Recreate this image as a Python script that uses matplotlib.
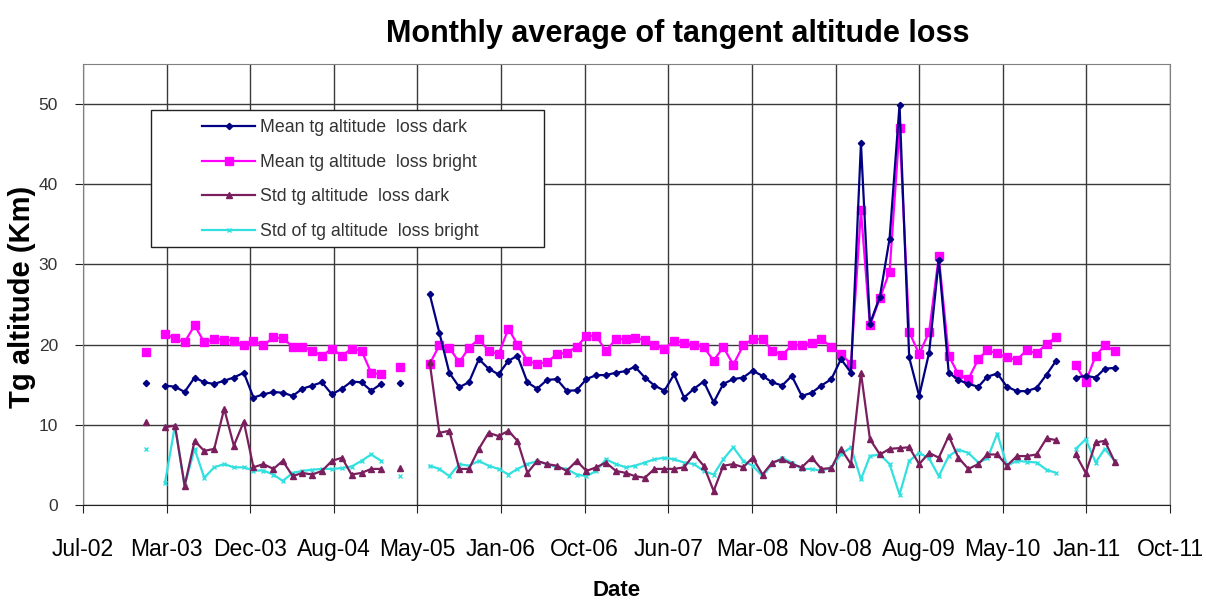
import numpy as np
import pandas as pd
import matplotlib
matplotlib.use("Agg")
import matplotlib.pyplot as plt
import matplotlib.dates as mdates
from matplotlib.patches import Rectangle

plt.rcParams['font.family'] = ['Liberation Sans', 'DejaVu Sans']

nan = np.nan
# monthly values, Jan-03 .. Apr-11 (100 months), gaps = nan
mean_dark = [15.2, nan,
             14.9, 14.75, 14.1, 15.9, 15.3, 15.1, 15.5, 15.9, 16.5, 13.4, 13.8, 14.1,
             14.0, 13.6, 14.5, 14.9, 15.3, 13.8, 14.5, 15.4, 15.3, 14.25, 15.1,
             nan, 15.2, nan, nan,
             26.3, 21.5, 16.5, 14.7, 15.3, 18.2, 17.0, 16.3, 18.0, 18.6, 15.3, 14.5,
             15.6, 15.7, 14.25, 14.3, 15.7, 16.2, 16.2, 16.5, 16.7, 17.25, 15.9, 14.9,
             14.25, 16.3, 13.4, 14.5, 15.4, 12.8, 15.1, 15.7, 15.9, 16.75, 16.1, 15.3,
             14.9, 16.1, 13.6, 14.0,
             14.9, 15.7, 18.2, 16.5, 45.1, 22.6, 26.0, 33.2, 49.9, 18.4, 13.6, 19.0,
             30.5, 16.5, 15.6, 15.1, 14.75, 16.0, 16.4, 14.75, 14.2, 14.2, 14.6, 16.25, 18.0,
             nan, 15.9, 16.1, 15.9, 17.0, 17.1]

mean_bright = [19.1, nan,
               21.3, 20.8, 20.3, 22.4, 20.3, 20.7, 20.6, 20.5, 19.9, 20.5, 19.9, 20.9,
               20.8, 19.75, 19.75, 19.25, 18.6, 19.5, 18.6, 19.5, 19.25, 16.5, 16.3,
               nan, 17.25, nan, nan,
               17.6, 19.9, 19.6, 17.8, 19.6, 20.7, 19.25, 18.8, 22.0, 20.0, 18.0, 17.6,
               17.8, 18.8, 19.0, 19.7, 21.1, 21.1, 19.2, 20.7, 20.7, 20.8, 20.6, 19.9,
               19.5, 20.5, 20.2, 20.0, 19.7, 18.0, 19.7, 17.5, 19.9, 20.7, 20.7, 19.25,
               18.7, 19.9, 20.0, 20.2,
               20.7, 19.7, 18.8, 17.6, 36.75, 22.4, 25.8, 29.1, 47.0, 21.6, 18.8, 21.6,
               31.0, 18.6, 16.3, 15.7, 18.2, 19.3, 18.9, 18.4, 18.1, 19.3, 18.9, 20.1, 20.9,
               nan, 17.4, 15.4, 18.6, 19.9, 19.2]

std_dark = [10.4, nan,
            9.7, 9.9, 2.4, 8.0, 6.75, 7.0, 12.0, 7.4, 10.4, 4.7, 5.1, 4.5,
            5.5, 3.6, 4.0, 3.8, 4.25, 5.5, 5.9, 3.8, 4.0, 4.5, 4.5,
            nan, 4.6, nan, nan,
            17.8, 9.0, 9.25, 4.5, 4.5, 7.0, 9.0, 8.6, 9.25, 8.0, 4.0, 5.5,
            5.1, 4.9, 4.25, 5.5, 4.25, 4.7, 5.3, 4.25, 4.0, 3.6, 3.4, 4.5,
            4.5, 4.5, 4.7, 6.3, 4.9, 1.75, 4.9, 5.1, 4.7, 5.9, 3.8, 5.3,
            5.7, 5.1, 4.7, 5.9,
            4.5, 4.6, 7.0, 5.1, 16.5, 8.2, 6.3, 7.0, 7.1, 7.2, 5.1, 6.5,
            5.9, 8.6, 5.9, 4.5, 5.1, 6.3, 6.3, 4.9, 6.1, 6.1, 6.3, 8.3, 8.1,
            nan, 6.3, 4.0, 7.8, 8.0, 5.4]

std_bright = [7.0, nan,
              2.8, 9.9, 2.4, 7.0, 3.4, 4.7, 5.1, 4.7, 4.7, 4.3, 4.3, 3.8,
              3.0, 4.0, 4.25, 4.4, 4.5, 4.5, 4.6, 4.8, 5.5, 6.3, 5.5,
              nan, 3.6, nan, nan,
              4.9, 4.5, 3.6, 5.1, 4.9, 5.5, 4.9, 4.5, 3.8, 4.5, 5.1, 5.5,
              5.1, 4.7, 4.5, 3.8, 3.6, 4.25, 5.7, 5.1, 4.7, 4.9, 5.3, 5.7,
              5.9, 5.7, 5.3, 5.1, 4.25, 3.8, 5.7, 7.2, 5.5, 4.9, 3.6, 5.1,
              5.9, 5.3, 4.5, 4.5,
              4.25, 4.7, 6.3, 7.2, 3.2, 6.1, 6.3, 5.1, 1.3, 5.5, 6.5, 5.8,
              3.6, 6.1, 6.9, 6.5, 5.3, 5.8, 8.9, 4.9, 5.5, 5.4, 5.3, 4.4, 4.0,
              nan, 7.0, 8.2, 5.3, 7.0, 5.5]

months = pd.date_range('2003-01-01', periods=len(mean_dark), freq='MS') + pd.Timedelta(days=14)

labels = ['Mean tg altitude  loss dark', 'Mean tg altitude  loss bright',
          'Std tg altitude  loss dark', 'Std of tg altitude  loss bright']

fig = plt.figure(figsize=(12.06, 6.03), dpi=100)
ax = fig.add_axes([83/1206, 1-505/603, 1087/1206, 441/603])

ax.plot(months, mean_dark, color='#000080', lw=1.6, marker='D', ms=3.2, label=labels[0], zorder=5)
ax.plot(months, mean_bright, color='#FF00FF', lw=1.6, marker='s', ms=6, label=labels[1], zorder=4)
ax.plot(months, std_dark, color='#7A1E5E', lw=1.6, marker='^', ms=5, label=labels[2], zorder=4)
ax.plot(months, std_bright, color='#33E0E0', lw=1.6, marker='x', ms=3, mew=1, label=labels[3], zorder=3)

# excel date axis: major unit 260 days
x0 = pd.Timestamp('2002-07-03')
ticks = [x0 + pd.Timedelta(days=260*k) for k in range(14)]
ax.set_xlim(mdates.date2num(ticks[0]), mdates.date2num(ticks[-1]))
ax.set_xticks(ticks)
ax.xaxis.set_major_formatter(mdates.DateFormatter('%b-%y'))
ax.set_ylim(0, 55)
ax.set_yticks([0, 10, 20, 30, 40, 50])

ax.grid(True, color='#3a3a3a', lw=1.0)
ax.set_axisbelow(True)
for s in ax.spines.values():
    s.set_color('#808080')
ax.spines['bottom'].set_color('#222222')
ax.tick_params(axis='x', labelsize=16.5, length=6, color='#222222', pad=18)
ax.tick_params(axis='y', labelsize=12.5, length=6, color='#222222', labelcolor='#333333', pad=12)

ax.set_title('Monthly average of tangent altitude loss', fontsize=22, fontweight='bold',
             x=(678-83)/1087, pad=16)
ax.set_xlabel('Date', fontsize=16, fontweight='bold')
ax.xaxis.label.set_va('center')
ax.xaxis.set_label_coords((617-83)/1087, (505-591)/441)
ax.set_ylabel('Tg altitude (Km)', fontsize=21, fontweight='bold')
ax.yaxis.label.set_va('center')
ax.yaxis.set_label_coords((22-83)/1087, (505-297)/441)

# legend box
ax.add_patch(Rectangle((68/1087, (505-247)/441), 393/1087, 137/441, transform=ax.transAxes,
                       facecolor='white', edgecolor='#222222', lw=1.0, zorder=6))
leg = ax.legend(loc='upper left', bbox_to_anchor=((202-83)/1087, (505-119)/441), frameon=False,
                fontsize=12.75, handlelength=3.0, handletextpad=0.3, labelspacing=1.0,
                borderpad=0, borderaxespad=0)
leg.set_zorder(7)
for t in leg.get_texts():
    t.set_color('#333333')

fig.savefig('out.png', dpi=100)
